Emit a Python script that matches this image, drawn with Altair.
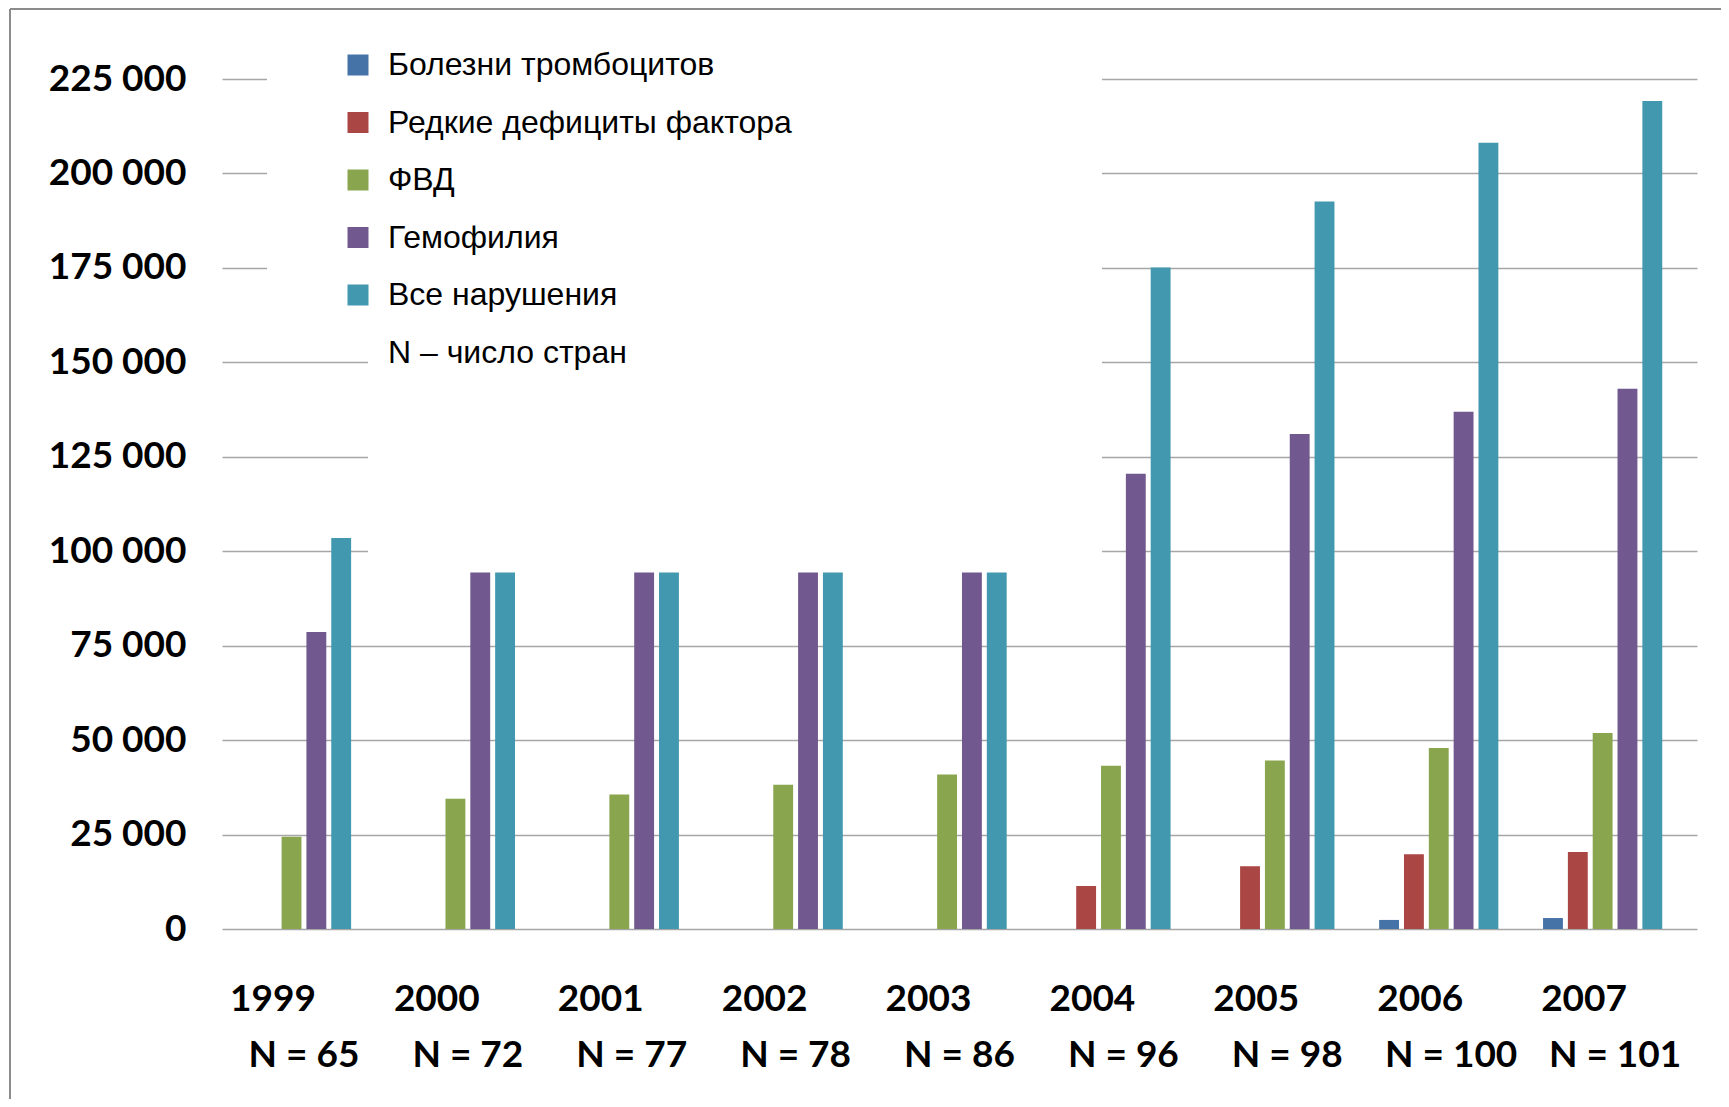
import altair as alt
import pandas as pd

years = ["1999", "2000", "2001", "2002", "2003", "2004", "2005", "2006", "2007"]
n_countries = [65, 72, 77, 78, 86, 96, 98, 100, 101]

series = [
    "Болезни тромбоцитов",
    "Редкие дефициты фактора",
    "ФВД",
    "Гемофилия",
    "Все нарушения",
    "N – число стран",
]
colors = ["#4572A7", "#AA4643", "#89A54E", "#71588F", "#4198AF", "rgba(255,255,255,0)"]

platelet = [None, None, None, None, None, None, None, 2400, 2900]
rare = [None, None, None, None, None, 11400, 16600, 19800, 20400]
vwd = [24400, 34500, 35600, 38200, 40900, 43200, 44600, 47900, 51900]
hemophilia = [78600, 94400, 94400, 94400, 94400, 120500, 131000, 136900, 143000]
all_disorders = [103500, 94400, 94400, 94400, 94400, 175100, 192600, 208100, 219200]

y_ticks = [0, 25000, 50000, 75000, 100000, 125000, 150000, 175000, 200000, 225000]

rows = []
for i, yr in enumerate(years):
    key = f"{yr}|N = {n_countries[i]}"
    for s, vals in zip(series, [platelet, rare, vwd, hemophilia, all_disorders, n_countries]):
        v = vals[i]
        if v is not None:
            rows.append({"year": key, "series": s, "value": v})
df = pd.DataFrame(rows)
keys_df = pd.DataFrame({"year": [f"{yr}|N = {n}" for yr, n in zip(years, n_countries)]})

x_scale = alt.Scale(paddingInner=0, paddingOuter=0)
label_style = dict(
    title=None, domain=False, ticks=False, labelAngle=0,
    labelFont="Lato", labelFontWeight="bold", labelFontSize=37,
    labelColor="black", labelBaseline="top", labelAlign="center",
    orient="bottom",
)

bars = alt.Chart(df).mark_bar().encode(
    x=alt.X(
        "year:N", scale=x_scale,
        axis=alt.Axis(labelExpr="split(datum.value, '|')[0]",
                      labelOffset=-31, labelPadding=52, **label_style),
    ),
    xOffset=alt.XOffset("series:N", sort=series,
                        scale=alt.Scale(domain=series, paddingInner=0.2, paddingOuter=0.4)),
    y=alt.Y(
        "value:Q",
        scale=alt.Scale(domain=[0, 225000], nice=False),
        axis=alt.Axis(
            title=None, domain=False, ticks=False, values=y_ticks,
            labelExpr="replace(format(datum.value, ','), ',', ' ')",
            labelFont="Lato", labelFontWeight="bold", labelFontSize=37,
            labelColor="black", labelPadding=36,
            grid=True, gridColor="#a6a6a6", gridWidth=1.5,
        ),
    ),
    color=alt.Color(
        "series:N",
        sort=series,
        scale=alt.Scale(domain=series, range=colors),
        legend=alt.Legend(
            title=None, orient="none", legendX=120, legendY=-30,
            symbolType="square", symbolSize=441, symbolStrokeWidth=0,
            symbolOpacity=1,
            labelFont="Liberation Sans", labelFontSize=32, labelColor="black",
            labelOffset=14, rowPadding=25.5, padding=0, labelLimit=700,
        ),
    ),
)

n_axis_layer = alt.Chart(keys_df).mark_point(opacity=0).encode(
    x=alt.X(
        "year:N", scale=x_scale,
        axis=alt.Axis(labelExpr="split(datum.value, '|')[1]",
                      labelPadding=108, **label_style),
    ),
)

one = pd.DataFrame({"k": [0]})
cover_a = alt.Chart(one).mark_rect(color="white").encode(
    x=alt.value(45), x2=alt.value(880), y=alt.value(-10), y2=alt.value(221)
)
cover_b = alt.Chart(one).mark_rect(color="white").encode(
    x=alt.value(146), x2=alt.value(880), y=alt.value(-10), y2=alt.value(486)
)
frame_top = alt.Chart(one).mark_rule(color="#8c8c8c", strokeWidth=2).encode(
    x=alt.value(-212), x2=alt.value(1520), y=alt.value(-70)
)
frame_left = alt.Chart(one).mark_rule(color="#8c8c8c", strokeWidth=2).encode(
    x=alt.value(-212), y=alt.value(-70), y2=alt.value(1030)
)

chart = alt.layer(cover_a, cover_b, bars, n_axis_layer, frame_top, frame_left).resolve_axis(
    x="independent"
).properties(
    width=1475,
    height=850,
    autosize=alt.AutoSizeParams(type="none"),
    padding={"left": 214, "top": 71, "right": 24, "bottom": 170},
    background="white",
).configure_view(stroke=None)

chart.save("out.html", embed_options={"renderer": "svg", "actions": False})
